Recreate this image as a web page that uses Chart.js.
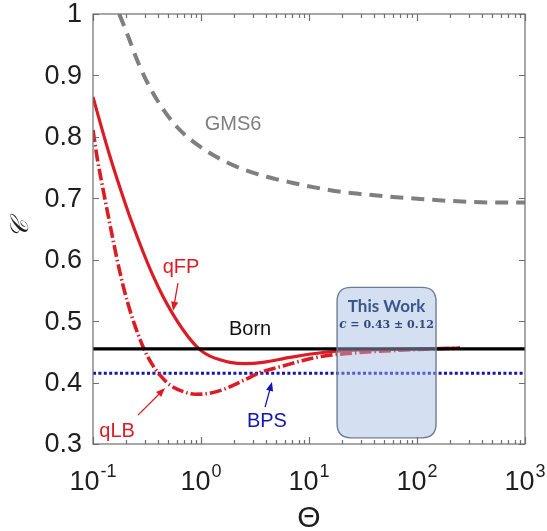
<!DOCTYPE html>
<html>
<head>
<meta charset="utf-8">
<script src="https://cdn.jsdelivr.net/npm/chart.js@4"></script>
<style>
  html, body { margin: 0; padding: 0; background: #ffffff; }
  canvas { display: block; }
</style>
</head>
<body>
<canvas id="chart" width="547" height="531"></canvas>
<script>
// ---- data ----------------------------------------------------------------
// qFP (solid red)
const thetaFP = [0.100, 0.1161, 0.1437, 0.1778, 0.2201, 0.2904, 0.3594, 0.4448, 0.5505, 0.6813, 0.8431, 1.00, 1.212, 1.499, 1.855, 2.555, 3.75, 6.67, 13.5, 29.6, 106.6, 250];
const cFP     = [0.865, 0.824, 0.768, 0.717, 0.669, 0.613, 0.574, 0.540, 0.511, 0.486, 0.465, 0.452, 0.443, 0.437, 0.433, 0.431, 0.433, 0.441, 0.449, 0.453, 0.455, 0.456];

// qLB (dash-dot red)
const thetaLB = [0.100, 0.109, 0.1238, 0.1437, 0.1668, 0.1936, 0.2248, 0.2610, 0.3030, 0.3518, 0.4173, 0.5164, 0.6671, 0.8799, 1.137, 1.565, 2.448, 3.75, 5.74, 8.80, 13.5, 21.5, 45.4, 106.6, 250];
const cLB     = [0.811, 0.767, 0.715, 0.657, 0.601, 0.552, 0.512, 0.479, 0.451, 0.430, 0.412, 0.396, 0.386, 0.381, 0.382, 0.388, 0.403, 0.418, 0.427, 0.436, 0.443, 0.447, 0.451, 0.454, 0.456];

// GMS6 (dashed grey)
const thetaGMS = [0.175, 0.206, 0.272, 0.392, 0.600, 0.98, 1.98, 4.08, 7.1, 11.9, 20.6, 34.4, 60, 107, 190, 331, 587, 1000];
const cGMS     = [1.000, 0.969, 0.914, 0.860, 0.816, 0.784, 0.754, 0.735, 0.725, 0.717, 0.710, 0.706, 0.702, 0.699, 0.696, 0.694, 0.693, 0.693];

// constant models
const thetaSpan = [0.1, 1000];
const cBorn = [0.455, 0.455];
const cBPS  = [0.415, 0.415];

// "This Work" estimate: c = 0.43 ± 0.12 over the shaded Θ window
const workTheta = [18.2, 150];
const workC     = [0.31, 0.555];
const workTitle = 'This Work';
const workValue = '0.43 ± 0.12';

// axes
const yTickValues = [0.3, 0.4, 0.5, 0.6, 0.7, 0.8, 0.9, 1];
const yTickLabels = ['0.3', '0.4', '0.5', '0.6', '0.7', '0.8', '0.9', '1'];
const xTickExponents = [-1, 0, 1, 2, 3];
const xTickExpLabels = ['-1', '0', '1', '2', '3'];

// ---- styling -------------------------------------------------------------
const RED = '#dc1c24';
const BLUE = '#1414b4';
const GREY = '#7f7f7f';
const SANS = '"Liberation Sans", Arial, sans-serif';

const toXY = (xs, ys) => xs.map((v, i) => ({ x: v, y: ys[i] }));

// text labels with arrows, placed in data coordinates (Θ, c)
const labels = [
  { text: 'GMS6', at: [1.98, 0.820], color: GREY },
  { text: 'qFP',  at: [0.653, 0.588], color: RED, arrow: [[0.612, 0.562], [0.551, 0.517]] },
  { text: 'Born', at: [2.85, 0.486], color: '#111111' },
  { text: 'qLB',  at: [0.167, 0.321], color: RED, arrow: [[0.261, 0.347], [0.464, 0.391]] },
  { text: 'BPS',  at: [4.08, 0.336], color: BLUE, arrow: [[3.92, 0.360], [4.54, 0.401]] }
];

function drawArrow(ctx, x0, y0, x1, y1, color) {
  const ang = Math.atan2(y1 - y0, x1 - x0);
  const len = 9, half = 3.6;
  ctx.save();
  ctx.strokeStyle = color;
  ctx.fillStyle = color;
  ctx.lineWidth = 1.3;
  ctx.beginPath();
  ctx.moveTo(x0, y0);
  ctx.lineTo(x1 - Math.cos(ang) * len * 0.8, y1 - Math.sin(ang) * len * 0.8);
  ctx.stroke();
  ctx.beginPath();
  ctx.moveTo(x1, y1);
  ctx.lineTo(x1 - Math.cos(ang) * len - Math.sin(ang) * half, y1 - Math.sin(ang) * len + Math.cos(ang) * half);
  ctx.lineTo(x1 - Math.cos(ang) * len + Math.sin(ang) * half, y1 - Math.sin(ang) * len - Math.cos(ang) * half);
  ctx.closePath();
  ctx.fill();
  ctx.restore();
}

function roundedRect(ctx, x0, y0, x1, y1, r) {
  ctx.beginPath();
  ctx.moveTo(x0 + r, y0);
  ctx.lineTo(x1 - r, y0);
  ctx.quadraticCurveTo(x1, y0, x1, y0 + r);
  ctx.lineTo(x1, y1 - r);
  ctx.quadraticCurveTo(x1, y1, x1 - r, y1);
  ctx.lineTo(x0 + r, y1);
  ctx.quadraticCurveTo(x0, y1, x0, y1 - r);
  ctx.lineTo(x0, y0 + r);
  ctx.quadraticCurveTo(x0, y0, x0 + r, y0);
  ctx.closePath();
}

// Frame, inward ticks, tick labels, titles, shaded estimate and annotations
const decorations = {
  id: 'decorations',
  afterDatasetsDraw(chart) {
    const { ctx, chartArea: a, scales: { x, y } } = chart;

    // shaded "This Work" box
    const bx0 = x.getPixelForValue(workTheta[0]);
    const bx1 = x.getPixelForValue(workTheta[1]);
    const by0 = y.getPixelForValue(workC[1]);
    const by1 = y.getPixelForValue(workC[0]);
    ctx.save();
    roundedRect(ctx, bx0, by0, bx1, by1, 14);
    ctx.fillStyle = 'rgba(160, 185, 226, 0.45)';
    ctx.fill();
    ctx.lineWidth = 1.4;
    ctx.strokeStyle = '#6d7c96';
    ctx.stroke();
    const bcx = (bx0 + bx1) / 2;
    ctx.textAlign = 'center';
    ctx.textBaseline = 'middle';
    ctx.fillStyle = '#3a5789';
    ctx.font = 'bold 17px Lato, "Open Sans", sans-serif';
    ctx.fillText(workTitle, bcx, by0 + 19);
    // second line: italic c then the bold value
    ctx.fillStyle = '#2f4a7a';
    const fC = 'bold italic 12px "DejaVu Serif", serif';
    const fV = 'bold 11px "DejaVu Serif", serif';
    const part1 = 'c', part2 = ' = ' + workValue;
    ctx.font = fC; const w1 = ctx.measureText(part1).width;
    ctx.font = fV; const w2 = ctx.measureText(part2).width;
    const sx = bcx - (w1 + w2) / 2;
    ctx.textAlign = 'left';
    ctx.font = fC; ctx.fillText(part1, sx, by0 + 38);
    ctx.font = fV; ctx.fillText(part2, sx + w1, by0 + 38);
    ctx.restore();

    // curve labels and arrows
    ctx.save();
    ctx.font = '20px ' + SANS;
    ctx.textAlign = 'center';
    ctx.textBaseline = 'middle';
    labels.forEach(l => {
      ctx.fillStyle = l.color;
      ctx.fillText(l.text, x.getPixelForValue(l.at[0]), y.getPixelForValue(l.at[1]));
      if (l.arrow) {
        drawArrow(ctx,
          x.getPixelForValue(l.arrow[0][0]), y.getPixelForValue(l.arrow[0][1]),
          x.getPixelForValue(l.arrow[1][0]), y.getPixelForValue(l.arrow[1][1]), l.color);
      }
    });
    ctx.restore();

    // axes frame with inward ticks
    ctx.save();
    ctx.strokeStyle = '#6e6e6e';
    ctx.lineWidth = 1.2;
    ctx.strokeRect(a.left, a.top, a.right - a.left, a.bottom - a.top);
    ctx.beginPath();
    yTickValues.forEach(v => {
      const py = Math.round(y.getPixelForValue(v)) + 0.5;
      ctx.moveTo(a.left, py); ctx.lineTo(a.left + 6, py);
      ctx.moveTo(a.right, py); ctx.lineTo(a.right - 6, py);
    });
    xTickExponents.forEach((e, i) => {
      const px = Math.round(x.getPixelForValue(Math.pow(10, e))) + 0.5;
      ctx.moveTo(px, a.bottom); ctx.lineTo(px, a.bottom - 7);
      ctx.moveTo(px, a.top); ctx.lineTo(px, a.top + 7);
      if (i < xTickExponents.length - 1) {
        for (let k = 2; k <= 9; k++) {
          const pm = Math.round(x.getPixelForValue(k * Math.pow(10, e))) + 0.5;
          ctx.moveTo(pm, a.bottom); ctx.lineTo(pm, a.bottom - 4);
          ctx.moveTo(pm, a.top); ctx.lineTo(pm, a.top + 4);
        }
      }
    });
    ctx.stroke();
    ctx.restore();

    // tick labels
    ctx.save();
    ctx.fillStyle = '#1e1e1e';
    ctx.font = '27px ' + SANS;
    ctx.textAlign = 'right';
    ctx.textBaseline = 'middle';
    yTickValues.forEach((v, i) => {
      ctx.fillText(yTickLabels[i], a.left - 11, y.getPixelForValue(v) + 1);
    });
    ctx.textAlign = 'left';
    ctx.textBaseline = 'alphabetic';
    xTickExponents.forEach((e, i) => {
      const px = x.getPixelForValue(Math.pow(10, e));
      ctx.font = '27px ' + SANS;
      const wb = ctx.measureText('10').width;
      ctx.font = '18px ' + SANS;
      const we = ctx.measureText(xTickExpLabels[i]).width;
      const x0 = px - (wb + we + 1) / 2;
      ctx.font = '27px ' + SANS;
      ctx.fillText('10', x0, a.bottom + 46);
      ctx.font = '18px ' + SANS;
      ctx.fillText(xTickExpLabels[i], x0 + wb + 1, a.bottom + 33);
    });
    ctx.restore();

    // axis titles
    ctx.save();
    ctx.fillStyle = '#1e1e1e';
    ctx.textAlign = 'center';
    ctx.textBaseline = 'middle';
    ctx.font = '30px ' + SANS;
    ctx.fillText('Θ', (a.left + a.right) / 2, a.bottom + 75);
    ctx.translate(21, (a.top + a.bottom) / 2);
    ctx.rotate(-Math.PI / 2);
    ctx.font = 'italic 25px "DejaVu Serif", serif';
    ctx.fillText('𝒞', 0, 0);
    ctx.restore();
  }
};

new Chart(document.getElementById('chart'), {
  type: 'line',
  data: {
    datasets: [
      {
        label: 'GMS6',
        data: toXY(thetaGMS, cGMS),
        borderColor: GREY,
        borderWidth: 4,
        borderDash: [13, 8],
        cubicInterpolationMode: 'monotone'
      },
      {
        label: 'Born',
        data: toXY(thetaSpan, cBorn),
        borderColor: '#000000',
        borderWidth: 3.2
      },
      {
        label: 'qLB',
        data: toXY(thetaLB, cLB),
        borderColor: RED,
        borderWidth: 3.6,
        borderDash: [12, 3, 1.5, 3],
        cubicInterpolationMode: 'monotone'
      },
      {
        label: 'BPS',
        data: toXY(thetaSpan, cBPS),
        borderColor: BLUE,
        borderWidth: 3,
        borderDash: [3, 2.4]
      },
      {
        label: 'qFP',
        data: toXY(thetaFP, cFP),
        borderColor: RED,
        borderWidth: 3.2,
        cubicInterpolationMode: 'monotone'
      }
    ]
  },
  options: {
    responsive: false,
    animation: false,
    devicePixelRatio: 1,
    layout: { padding: { left: 93, right: 22, top: 14, bottom: 87 } },
    elements: { point: { radius: 0, hoverRadius: 0 }, line: { fill: false } },
    plugins: { legend: { display: false }, tooltip: { enabled: false } },
    events: [],
    scales: {
      x: { type: 'logarithmic', min: thetaSpan[0], max: thetaSpan[1], display: false },
      y: { type: 'linear', min: yTickValues[0], max: yTickValues[yTickValues.length - 1], display: false }
    }
  },
  plugins: [decorations]
});
</script>
</body>
</html>
